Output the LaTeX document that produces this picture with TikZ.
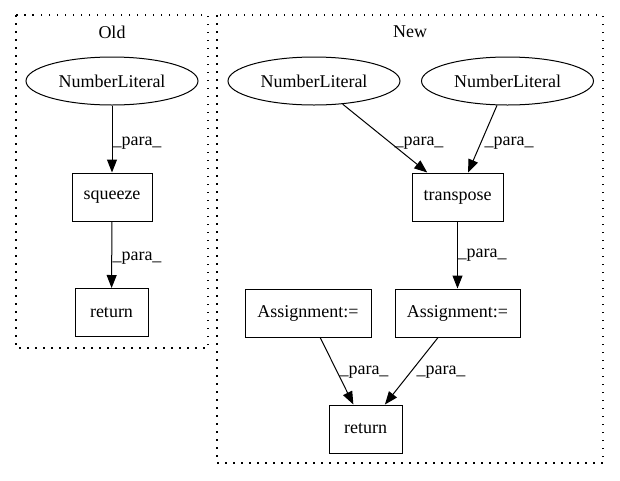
\documentclass[tikz,border=0pt]{standalone}
\usepackage{fontspec}
\setmainfont{Liberation Serif}
\usepackage{xcolor}
\usetikzlibrary{shapes.geometric,arrows.meta}

\begin{document}
\begin{tikzpicture}[x=1pt, y=-1pt,
    font=\fontsize{18}{21}\selectfont,
    lit/.style={draw, ellipse, line width=1pt, minimum width=172pt, minimum height=48pt, inner sep=0pt},
    opbox/.style={draw, rectangle, line width=1pt, minimum height=48pt, inner sep=0pt},
    cluster/.style={line width=1.3pt, dash pattern=on 1.5pt off 6.5pt},
    edge/.style={line width=1pt, -{Triangle[length=13pt, width=10pt]}},
    lbl/.style={font=\fontsize{18}{21}\selectfont}]
    \useasboundingbox (0,0) rectangle (620,480);

    % Cluster 1 - Old (retangulo pontilhado)
    \draw[cluster] (16,15) rectangle (208,348);
    \node (oldtitle) at (112,32) {Old};

    % Cluster 2 - New (retangulo pontilhado)
    \draw[cluster] (217,15) rectangle (603,463);
    \node (newtitle) at (410,32) {New};

    % Nos do Old
    \node[lit] (oldlit) at (112,81) {NumberLiteral};
    \node[opbox, minimum width=80pt] (squeeze) at (112,197) {squeeze};
    \node[opbox, minimum width=73pt] (oldret) at (111.5,312.5) {return};

    % Nos do New
    \node[lit] (newlitA) at (314,81) {NumberLiteral};
    \node[lit] (newlitB) at (507.5,81) {NumberLiteral};
    \node[opbox, minimum width=91pt] (transpose) at (457.5,197) {transpose};
    \node[opbox, minimum width=126pt] (assignA) at (308,313) {Assignment:=};
    \node[opbox, minimum width=125pt] (assignB) at (457.5,313) {Assignment:=};
    \node[opbox, minimum width=73pt] (newret) at (365.5,429) {return};

    % Arestas do Old
    \draw[edge] (oldlit) -- (squeeze);
    \node[lbl] at (137,143) {\_para\_};
    \draw[edge] (squeeze) -- (oldret);
    \node[lbl] at (137,258) {\_para\_};

    % Arestas do New
    \draw[edge] (newlitA) -- (transpose);
    \node[lbl] at (419,143) {\_para\_};
    \draw[edge] (newlitB) -- (transpose);
    \node[lbl] at (509,143) {\_para\_};
    \draw[edge] (transpose) -- (assignB);
    \node[lbl] at (482,255) {\_para\_};
    \draw[edge] (assignA) -- (newret);
    \node[lbl] at (364,372) {\_para\_};
    \draw[edge] (assignB) -- (newret);
    \node[lbl] at (441,372) {\_para\_};
\end{tikzpicture}
\end{document}
